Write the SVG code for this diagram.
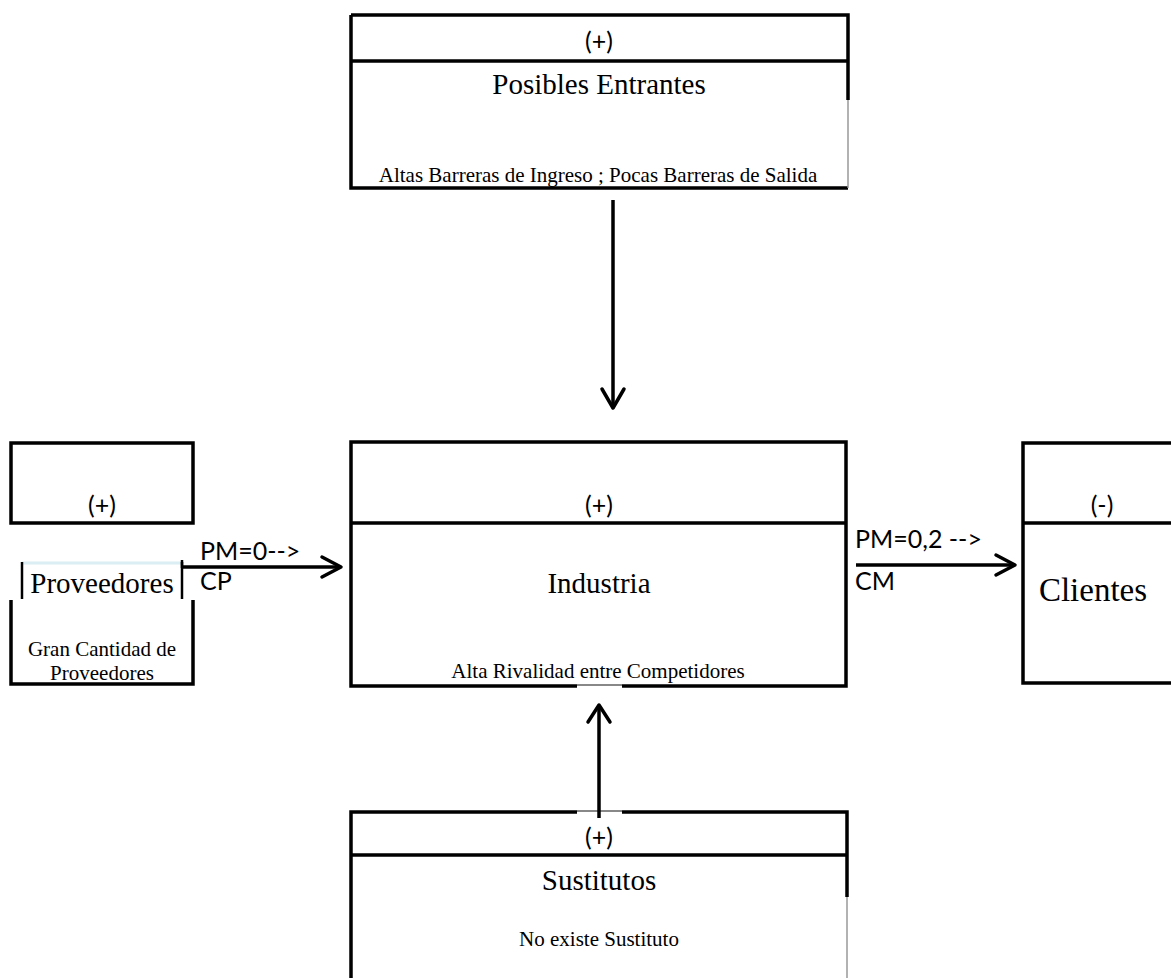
<svg xmlns="http://www.w3.org/2000/svg" width="1171" height="978" viewBox="0 0 1171 978">
  <style>
    .box { fill: none; stroke: #000; stroke-width: 3.5; }
    .thin { fill: none; stroke: #999; stroke-width: 1.5; }
    .sans { font-family: Lato, "Liberation Sans", sans-serif; font-size: 25px; fill: #000; }
    .title { font-family: "Liberation Serif", serif; font-size: 29px; fill: #000; text-anchor: middle; }
    .note { font-family: "Liberation Serif", serif; font-size: 21px; fill: #000; text-anchor: middle; }
    .mid { text-anchor: middle; }
    .conn { fill: none; stroke: #000; stroke-width: 3.5; }
    .head { fill: none; stroke: #000; stroke-width: 3.5; stroke-linecap: round; stroke-linejoin: round; }
  </style>
  <rect width="1171" height="978" fill="#fff"/>

  <!-- Possible entrants -->
  <g id="entrantes">
    <path class="box" d="M351,15 H848 V100 M848,61 H351 M351,15 V188 H848"/>
    <path class="thin" d="M848,100 V188"/>
    <text class="sans mid" x="599" y="50">(+)</text>
    <text class="title" x="599" y="94">Posibles Entrantes</text>
    <text class="note" x="598" y="182">Altas Barreras de Ingreso ; Pocas Barreras de Salida</text>
  </g>

  <!-- Suppliers -->
  <g id="proveedores">
    <rect class="box" x="11" y="443" width="182" height="80"/>
    <text class="sans mid" x="102" y="514">(+)</text>
    <line x1="22" y1="563" x2="181" y2="563" stroke="#daeef3" stroke-width="3"/>
    <line x1="22" y1="562" x2="22" y2="599" stroke="#000" stroke-width="2.5"/>
    <line x1="182" y1="562" x2="182" y2="599" stroke="#000" stroke-width="2.5"/>
    <text class="title" x="102" y="593">Proveedores</text>
    <path class="box" d="M11,600 V684 H193 V600"/>
    <text class="note" x="102" y="656">Gran Cantidad de</text>
    <text class="note" x="102" y="680">Proveedores</text>
  </g>

  <!-- Industry -->
  <g id="industria">
    <path class="box" d="M351,442 H846 V686 H351 Z M351,523 H846"/>
    <line x1="577" y1="686" x2="622" y2="686" stroke="#fff" stroke-width="4"/>
    <line x1="577" y1="685" x2="622" y2="685" stroke="#888" stroke-width="2"/>
    <text class="sans mid" x="599" y="514">(+)</text>
    <text class="title" x="599" y="593">Industria</text>
    <text class="note" x="598" y="678">Alta Rivalidad entre Competidores</text>
  </g>

  <!-- Customers -->
  <g id="clientes">
    <path class="box" d="M1171,443 H1023 V683 H1171 M1023,523 H1171"/>
    <text class="sans mid" x="1102" y="514">(-)</text>
    <text class="title" x="1093" y="601" style="font-size:33px">Clientes</text>
  </g>

  <!-- Substitutes -->
  <g id="sustitutos">
    <path class="box" d="M351,978 V812 H847 V897 M351,855 H847"/>
    <path class="thin" d="M847,897 V978"/>
    <line x1="577" y1="812" x2="622" y2="812" stroke="#fff" stroke-width="4"/>
    <line x1="577" y1="811" x2="622" y2="811" stroke="#888" stroke-width="2"/>
    <text class="sans mid" x="599" y="846">(+)</text>
    <text class="title" x="599" y="890">Sustitutos</text>
    <text class="note" x="599" y="946">No existe Sustituto</text>
  </g>

  <!-- Connectors -->
  <g id="connectors">
    <line class="conn" x1="613" y1="200" x2="613" y2="406"/>
    <path class="head" d="M602,389 L613,408 L624,389"/>

    <line class="conn" x1="181" y1="567" x2="338" y2="567"/>
    <path class="head" d="M322,557 L341,567 L322,577"/>
    <line x1="182" y1="560" x2="182" y2="568" stroke="#000" stroke-width="2.5"/>
    <text class="sans" x="200" y="560">PM=0--&gt;</text>
    <text class="sans" x="200" y="590">CP</text>

    <line class="conn" x1="856" y1="565" x2="1012" y2="565"/>
    <path class="head" d="M996,555 L1015,565 L996,575"/>
    <text class="sans" x="855" y="548">PM=0,2 --&gt;</text>
    <text class="sans" x="855" y="590">CM</text>

    <line class="conn" x1="599" y1="818" x2="599" y2="707"/>
    <path class="head" d="M588,722 L599,705 L610,722"/>
  </g>
</svg>
